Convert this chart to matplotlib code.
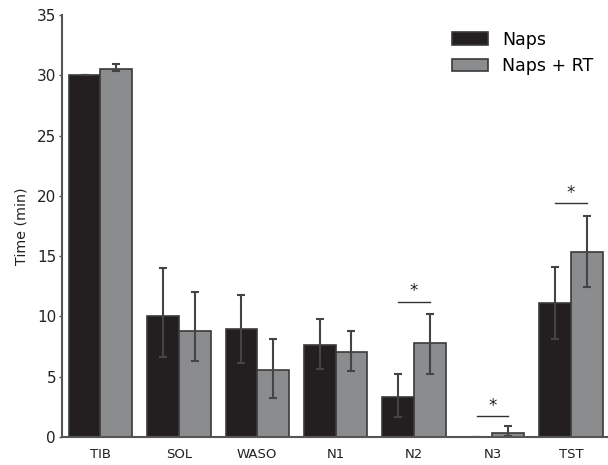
import numpy as np
import matplotlib
matplotlib.use("Agg")
import matplotlib.pyplot as plt

categories = ["TIB", "SOL", "WASO", "N1", "N2", "N3", "TST"]

naps_mean = [30.0, 10.05, 8.97, 7.65, 3.36, 0.03, 11.1]
naps_low = [30.0, 6.6, 6.15, 5.63, 1.68, 0.03, 8.12]
naps_high = [30.0, 14.05, 11.8, 9.8, 5.24, 0.03, 14.1]

rt_mean = [30.49, 8.8, 5.55, 7.07, 7.79, 0.35, 15.38]
rt_low = [30.35, 6.3, 3.28, 5.44, 5.27, 0.05, 12.45]
rt_high = [30.9, 12.06, 8.17, 8.83, 10.24, 0.96, 18.36]

# significance brackets: (category index, line height, star height)
sig_marks = [(4, 11.18, 12.1), (5, 1.79, 2.55), (6, 19.44, 20.2)]

naps_color = "#231f20"
rt_color = "#8b8c8e"
edge = "#3a3a3a"
err_color = "#444444"

fig = plt.figure(figsize=(6.08, 4.65), dpi=100)
ax = fig.add_axes([0.1025, 0.060, 0.8975, 0.908])

x = np.arange(len(categories))
w = 0.404

naps_err = [np.array(naps_mean) - np.array(naps_low), np.array(naps_high) - np.array(naps_mean)]
rt_err = [np.array(rt_mean) - np.array(rt_low), np.array(rt_high) - np.array(rt_mean)]

ax.bar(x - w / 2, naps_mean, w, color=naps_color, edgecolor=edge, linewidth=1.2, label="Naps")
ax.bar(x + w / 2, rt_mean, w, color=rt_color, edgecolor=edge, linewidth=1.2, label="Naps + RT")
ax.errorbar(x - w / 2, naps_mean, yerr=naps_err, fmt="none", ecolor=err_color, elinewidth=1.5, capsize=3, capthick=1.5)
ax.errorbar(x + w / 2, rt_mean, yerr=rt_err, fmt="none", ecolor=err_color, elinewidth=1.5, capsize=3, capthick=1.5)

for i, ly, sy in sig_marks:
    ax.plot([i - w / 2, i + w / 2], [ly, ly], color="#333333", lw=1.0)
    ax.text(i, sy, "*", ha="center", va="center", fontsize=12, color="#222222")

ax.set_xlim(-0.486, 6.474)
ax.set_ylim(0, 35)
ax.set_yticks(range(0, 36, 5))
ax.set_xticks(x)
ax.set_xticklabels(categories, fontsize=9.5, color="#222222")
ax.tick_params(axis="x", length=0, pad=8)
ax.tick_params(axis="y", length=2.5, width=1, color="#555555", labelsize=11, labelcolor="#222222", pad=2)
ax.set_ylabel("Time (min)", fontsize=10.3, color="#222222", labelpad=6)

for s in ["top", "right"]:
    ax.spines[s].set_visible(False)
for s in ["left", "bottom"]:
    ax.spines[s].set_color("#555555")
    ax.spines[s].set_linewidth(1.5)

ax.legend(loc="upper left", bbox_to_anchor=(0.685, 1.0), frameon=False, fontsize=12.5,
          handlelength=2.07, handleheight=0.73, handletextpad=0.82, labelspacing=0.5)

fig.savefig("out.png", dpi=100)
